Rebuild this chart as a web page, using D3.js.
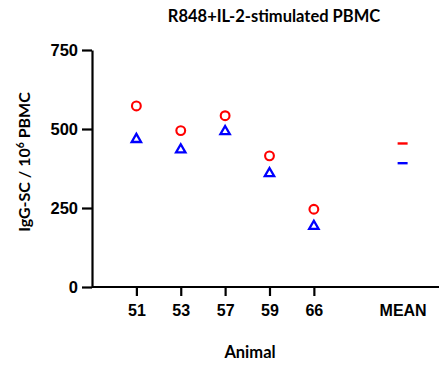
<!DOCTYPE html>
<html>
<head>
<meta charset="utf-8">
<script src="https://cdn.jsdelivr.net/npm/d3@7/dist/d3.min.js"></script>
<style>
  html, body { margin: 0; padding: 0; background: #fff; }
  svg { display: block; }
</style>
</head>
<body>
<svg id="chart" width="439" height="365"></svg>
<script>
var animals = ['51', '53', '57', '59', '66'];
var circleValues = [573, 495, 542, 415, 246];
var triangleValues = [470, 437, 495, 362, 195];
var meanLabel = 'MEAN';
var yTicks = [0, 250, 500, 750];

var svg = d3.select('#chart');
var width = 439;
var height = 365;

// x positions by index, the mean sits two slots after the last animal
var x = d3.scaleLinear().domain([-1, 6.82]).range([92, 439]);
var y = d3.scaleLinear().domain([0, 750]).range([287, 50]);
var meanIndex = animals.length + 1;

var yAxis = svg.append('g')
  .attr('transform', 'translate(' + x(-1) + ',0)')
  .call(d3.axisLeft(y).tickValues(yTicks).tickSize(10).tickSizeOuter(0).tickPadding(4));

var xTickValues = animals.map(function (d, i) { return i; }).concat([meanIndex]);
var xAxis = svg.append('g')
  .attr('transform', 'translate(0,' + y(0) + ')')
  .call(d3.axisBottom(x).tickValues(xTickValues).tickSize(9).tickSizeOuter(0).tickPadding(9)
    .tickFormat(function (d) { return d === meanIndex ? meanLabel : animals[d]; }));

[yAxis, xAxis].forEach(function (g) {
  g.select('.domain').attr('stroke', '#000').attr('stroke-width', 2.2);
  g.selectAll('.tick line').attr('stroke', '#000').attr('stroke-width', 2.2);
  g.selectAll('.tick text')
    .attr('fill', '#000')
    .style('font-family', '"Liberation Sans", Arial, sans-serif')
    .style('font-weight', 'bold')
    .style('font-size', '16px');
});
xAxis.select('.domain').attr('d', 'M' + x(-1) + ',0H' + width);
xAxis.selectAll('.tick').filter(function (d) { return d === meanIndex; }).select('line').remove();
yAxis.selectAll('.tick text').style('font-size', '16.5px');

// circles (red)
svg.append('g').selectAll('circle')
  .data(circleValues)
  .join('circle')
  .attr('cx', function (d, i) { return x(i); })
  .attr('cy', function (d) { return y(d); })
  .attr('r', 4.4)
  .attr('fill', 'none')
  .attr('stroke', '#ff0000')
  .attr('stroke-width', 2.1);

// triangles (blue)
var tri = d3.symbol().type(d3.symbolTriangle).size(38);
svg.append('g').selectAll('path')
  .data(triangleValues)
  .join('path')
  .attr('d', tri)
  .attr('transform', function (d, i) { return 'translate(' + x(i) + ',' + (y(d) + 0.8) + ')'; })
  .attr('fill', 'none')
  .attr('stroke', '#0000ff')
  .attr('stroke-width', 2.3)
  .attr('stroke-linejoin', 'miter');

// mean dashes
var means = [
  { v: d3.mean(circleValues), c: '#ff0000' },
  { v: d3.mean(triangleValues), c: '#0000ff' }
];
svg.append('g').selectAll('line')
  .data(means)
  .join('line')
  .attr('x1', x(meanIndex) - 5)
  .attr('x2', x(meanIndex) + 5)
  .attr('y1', function (d) { return y(d.v); })
  .attr('y2', function (d) { return y(d.v); })
  .attr('stroke', function (d) { return d.c; })
  .attr('stroke-width', 2.4);

var labelFont = 'Lato, "Open Sans", sans-serif';

svg.append('text')
  .attr('x', 274)
  .attr('y', 22)
  .attr('text-anchor', 'middle')
  .style('font-family', labelFont)
  .style('font-weight', 'bold')
  .style('font-size', '16.5px')
  .text('R848+IL-2-stimulated PBMC');

svg.append('text')
  .attr('x', 250)
  .attr('y', 358)
  .attr('text-anchor', 'middle')
  .style('font-family', labelFont)
  .style('font-weight', 'bold')
  .style('font-size', '16.5px')
  .text('Animal');

var yl = svg.append('text')
  .attr('transform', 'translate(30,162) rotate(-90)')
  .attr('text-anchor', 'middle')
  .style('font-family', labelFont)
  .style('font-weight', 'bold')
  .style('font-size', '16px');
yl.append('tspan').text('IgG-SC / 10');
yl.append('tspan').attr('dy', -6).style('font-size', '10.5px').text('6');
yl.append('tspan').attr('dy', 6).text(' PBMC');
</script>
</body>
</html>
